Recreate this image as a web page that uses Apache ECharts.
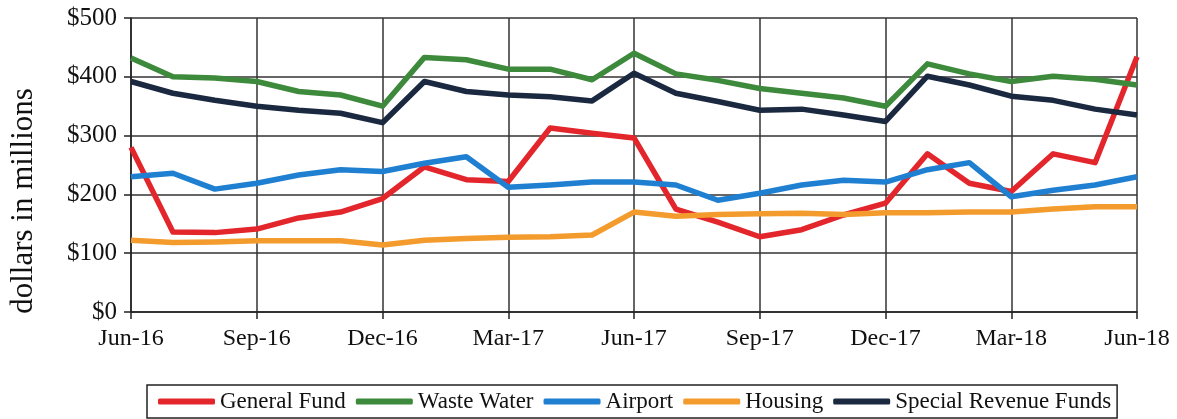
<!DOCTYPE html>
<html>
<head>
<meta charset="utf-8">
<script src="https://cdn.jsdelivr.net/npm/echarts@6/dist/echarts.min.js"></script>
<style>
  html, body { margin: 0; padding: 0; background: #fff; }
  #chart { width: 1177px; height: 419px; }
</style>
</head>
<body>
<div id="chart"></div>
<script>
var months = ['Jun-16', 'Jul-16', 'Aug-16', 'Sep-16', 'Oct-16', 'Nov-16', 'Dec-16',
    'Jan-17', 'Feb-17', 'Mar-17', 'Apr-17', 'May-17', 'Jun-17', 'Jul-17', 'Aug-17', 'Sep-17',
    'Oct-17', 'Nov-17', 'Dec-17', 'Jan-18', 'Feb-18', 'Mar-18', 'Apr-18', 'May-18', 'Jun-18'];

var generalFund = [280, 136, 135, 141, 160, 170, 193, 247, 225, 222, 313, 304, 296,
    175, 153, 128, 140, 165, 185, 269, 219, 205, 269, 254, 434];
var wasteWater = [432, 400, 398, 392, 375, 369, 350, 433, 429, 413, 413, 395, 440,
    405, 394, 380, 372, 364, 350, 422, 405, 392, 401, 396, 386];
var airport = [230, 236, 209, 219, 233, 242, 239, 253, 264, 212, 216, 221, 221,
    216, 190, 202, 216, 224, 221, 242, 254, 196, 207, 216, 230];
var housing = [122, 118, 119, 121, 121, 121, 114, 122, 125, 127, 128, 131, 170,
    163, 166, 167, 168, 166, 169, 169, 170, 170, 175, 179, 179];
var specialRevenue = [392, 372, 360, 350, 343, 338, 322, 392, 375, 369, 366, 359, 406,
    372, 358, 343, 345, 335, 324, 401, 386, 367, 360, 345, 335];

var seriesNames = ['General Fund', 'Waste Water', 'Airport', 'Housing', 'Special Revenue Funds'];
var seriesColors = ['#e3262b', '#3e8a3c', '#1f7fd1', '#f39b2d', '#1b2940'];
var seriesData = [generalFund, wasteWater, airport, housing, specialRevenue];

var font = 'Liberation Serif';

function makeSeries(i) {
    return {
        name: seriesNames[i],
        type: 'line',
        data: seriesData[i],
        symbol: 'none',
        color: seriesColors[i],
        lineStyle: { width: 5.5, color: seriesColors[i], join: 'round' }
    };
}

var chart = echarts.init(document.getElementById('chart'));

var option = {
    backgroundColor: '#fff',
    animation: false,
    grid: { left: 129, right: 40, top: 18, bottom: 107 },
    legend: {
        data: seriesNames,
        left: 147,
        top: 385,
        padding: [3, 6, 3, 11],
        borderColor: '#222',
        borderWidth: 1.5,
        itemWidth: 57,
        itemHeight: 6,
        itemGap: 10,
        icon: 'roundRect',
        textStyle: { fontFamily: font, fontSize: 23, color: '#111', lineHeight: 27 }
    },
    xAxis: {
        type: 'category',
        data: months,
        boundaryGap: false,
        axisLine: { lineStyle: { color: '#222', width: 1.5 } },
        axisTick: { interval: 2, length: 7, lineStyle: { color: '#222', width: 1.5 } },
        axisLabel: { interval: 2, fontFamily: font, fontSize: 24, color: '#111', margin: 15 },
        splitLine: { show: true, interval: 2, lineStyle: { color: '#333', width: 1.5 } }
    },
    yAxis: {
        type: 'value',
        min: 0,
        max: 500,
        interval: 100,
        name: 'dollars in millions',
        nameLocation: 'middle',
        nameGap: 92,
        nameTextStyle: { fontFamily: font, fontSize: 31, color: '#111', padding: [0, 72, 0, 0] },
        axisLine: { show: true, lineStyle: { color: '#222', width: 1.5 } },
        axisTick: { show: true, length: 7, lineStyle: { color: '#222', width: 1.5 } },
        axisLabel: {
            fontFamily: font, fontSize: 25, color: '#111', margin: 14,
            formatter: function (v) { return '$' + v; }
        },
        splitLine: { lineStyle: { color: '#333', width: 1.5 } }
    },
    series: [makeSeries(0), makeSeries(1), makeSeries(2), makeSeries(3), makeSeries(4)]
};

chart.setOption(option);
</script>
</body>
</html>
